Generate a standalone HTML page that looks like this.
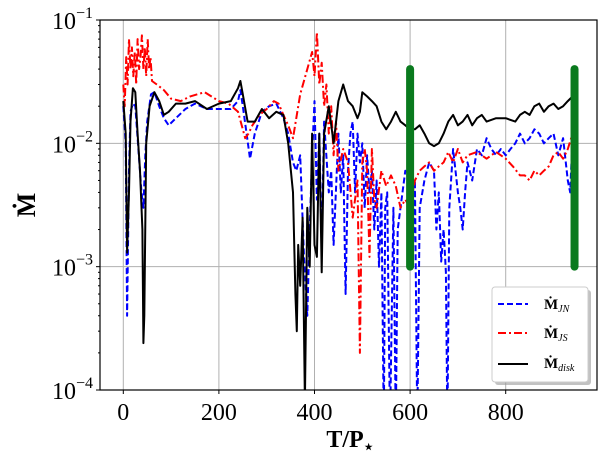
<!DOCTYPE html>
<html><head><meta charset="utf-8"><style>
body{margin:0;background:#fff;}
svg text{font-family:"Liberation Serif",serif;}
</style></head><body>
<svg id="chart" width="609" height="463" xmlns="http://www.w3.org/2000/svg">
<defs><clipPath id="clip"><rect x="100" y="20" width="497" height="370"/></clipPath></defs>
<g id="grid"></g>
<g id="series" clip-path="url(#clip)"></g>
<g id="bars"></g>
<rect x="100" y="20" width="497" height="370" fill="none" stroke="#000" stroke-width="1.2"/>
<g id="ticks"></g>
<text x="35" y="205" font-size="26" font-weight="bold" text-anchor="middle" transform="rotate(-90 35 205)">Ṁ</text>
<text x="350" y="447" font-size="24" font-weight="bold" text-anchor="middle">T/P<tspan font-size="16" dy="5">⋆</tspan></text>
<g>
<rect x="495" y="290" width="96" height="95" rx="3" fill="#999" opacity="0.6"/>
<rect x="492" y="287" width="96" height="95" rx="3" fill="#fff" stroke="#ccc"/>
<g><line x1="498" y1="304" x2="528" y2="304" stroke="blue" stroke-width="2" stroke-dasharray="6,3"/><text x="544" y="309" font-size="15" font-weight="bold">Ṁ<tspan font-size="10" font-style="italic" font-weight="normal" dy="3">JN</tspan></text></g>
<g><line x1="498" y1="333" x2="528" y2="333" stroke="red" stroke-width="2" stroke-dasharray="8,3,2,3"/><text x="544" y="338" font-size="15" font-weight="bold">Ṁ<tspan font-size="10" font-style="italic" font-weight="normal" dy="3">JS</tspan></text></g>
<g><line x1="498" y1="364" x2="528" y2="364" stroke="#000" stroke-width="2"/><text x="544" y="368" font-size="15" font-weight="bold">Ṁ<tspan font-size="10" font-style="italic" font-weight="normal" dy="3">disk</tspan></text></g>
</g>
</svg>
<script>
const xTicks=[0,200,400,600,800];
const yTickExp=[-1,-2,-3,-4];
const markerTimes=[600,944];
const markerRange=[0.04,0.001];
const diskT=[0,5,8,12,15,20,25,30,35,40,42,44,48,55,65,75,85,95,110,130,150,175,200,225,240,245,250,260,275,290,305,320,335,345,355,360,363,366,370,375,380,385,390,395,400,405,410,415,420,430,440,450,460,470,480,490,495,500,510,520,530,540,550,560,570,580,590,600,610,620,630,640,650,660,670,680,690,700,710,720,730,740,750,760,780,800,820,830,840,850,860,870,880,890,900,910,920,930,940];
const diskV=[0.022,0.012,0.0013,0.004,0.015,0.028,0.026,0.012,0.006,0.002,0.00024,0.0004,0.01,0.02,0.026,0.022,0.017,0.018,0.021,0.021,0.022,0.019,0.021,0.022,0.028,0.032,0.025,0.015,0.015,0.019,0.016,0.018,0.017,0.01,0.004,0.0006,0.0003,0.0015,0.0007,0.0025,0.00008,0.003,0.001,0.012,0.0015,0.0012,0.012,0.0009,0.012,0.02,0.01,0.022,0.03,0.022,0.02,0.016,0.018,0.026,0.024,0.022,0.02,0.015,0.013,0.015,0.018,0.015,0.014,0.013,0.013,0.014,0.012,0.01,0.0095,0.01,0.012,0.015,0.017,0.014,0.015,0.017,0.014,0.016,0.017,0.015,0.016,0.016,0.015,0.017,0.018,0.017,0.02,0.021,0.018,0.02,0.021,0.019,0.02,0.022,0.024];
const jnT=[0,5,8,12,15,20,25,30,38,42,46,50,58,65,75,85,95,110,130,150,175,200,225,240,245,250,258,265,275,290,305,320,335,345,355,362,370,378,385,390,395,400,405,410,415,420,430,435,440,450,455,460,465,470,475,480,485,490,495,500,505,510,515,520,525,530,535,540,545,548,552,558,565,570,574,580,590,600,605,610,615,620,630,640,650,655,660,665,670,675,678,682,690,700,705,710,715,720,730,740,750,760,770,780,790,800,810,820,830,840,850,860,870,880,890,900,910,920,930,935,940];
const jnV=[0.02,0.01,0.0004,0.006,0.018,0.021,0.02,0.011,0.004,0.003,0.008,0.015,0.025,0.026,0.02,0.016,0.014,0.016,0.019,0.021,0.019,0.019,0.019,0.022,0.027,0.02,0.012,0.0075,0.012,0.018,0.02,0.021,0.016,0.012,0.007,0.006,0.008,0.0012,0.0004,0.002,0.008,0.022,0.0035,0.012,0.0014,0.015,0.004,0.006,0.0015,0.012,0.004,0.008,0.0006,0.006,0.012,0.015,0.004,0.012,0.007,0.01,0.003,0.008,0.004,0.006,0.002,0.005,0.001,0.004,0.00005,0.003,0.004,0.00005,0.003,0.00005,0.002,0.003,0.006,0.005,0.001,0.005,0.00005,0.003,0.005,0.007,0.006,0.002,0.004,0.0011,0.002,0.0009,0.00005,0.003,0.009,0.004,0.003,0.002,0.004,0.007,0.005,0.009,0.008,0.011,0.009,0.008,0.009,0.008,0.009,0.01,0.012,0.01,0.011,0.013,0.012,0.01,0.011,0.012,0.008,0.011,0.005,0.004,0.012];
const jsT=[0,3,6,9,12,15,18,21,24,27,30,33,36,39,42,45,48,51,54,57,60,70,85,100,120,140,170,200,220,240,250,255,262,270,285,300,315,325,335,345,355,370,385,395,400,405,410,415,420,425,430,435,440,445,450,460,470,480,490,495,500,505,510,515,520,525,530,540,550,560,570,580,590,600,610,620,630,640,650,660,670,680,690,700,710,720,740,760,780,800,815,830,840,850,860,870,880,890,900,910,920,930,940];
const jsV=[0.03,0.02,0.05,0.03,0.07,0.04,0.06,0.035,0.055,0.03,0.07,0.04,0.05,0.075,0.04,0.06,0.035,0.07,0.04,0.05,0.032,0.03,0.027,0.023,0.022,0.024,0.026,0.022,0.021,0.018,0.013,0.011,0.012,0.014,0.017,0.019,0.022,0.021,0.017,0.014,0.011,0.025,0.04,0.055,0.035,0.08,0.03,0.045,0.02,0.03,0.012,0.02,0.008,0.015,0.006,0.009,0.007,0.0025,0.005,0.0002,0.007,0.009,0.006,0.0012,0.009,0.0035,0.003,0.006,0.0045,0.0055,0.0045,0.003,0.0035,0.003,0.005,0.006,0.0065,0.007,0.006,0.0065,0.007,0.0085,0.007,0.009,0.007,0.008,0.0085,0.0075,0.0085,0.0075,0.0065,0.0055,0.0055,0.005,0.006,0.0055,0.006,0.0065,0.008,0.0085,0.0075,0.009,0.012];

const NS='http://www.w3.org/2000/svg';
const X0=100,X1=597,Y0=20,Y1=390;
function xs(t){return 123.3+(t-0)*(505.7-123.3)/800;}
function ys(v){return Y0+(-1-Math.log10(v))*(Y1-Y0)/3;}
function mk(tag,attrs,parent){const e=document.createElementNS(NS,tag);for(const k in attrs)e.setAttribute(k,attrs[k]);parent.appendChild(e);return e;}
const grid=document.getElementById('grid'),ticks=document.getElementById('ticks');
xTicks.forEach(t=>{
 const x=xs(t);
 const g=mk('line',{x1:x,x2:x,y1:Y0,y2:Y1,stroke:'#b0b0b0','stroke-width':1},grid);
 
 
 mk('line',{x1:x,x2:x,y1:Y1,y2:Y1+4,stroke:'#000'},ticks);
 const tx=mk('text',{x:x,y:Y1+30,'font-size':24,'text-anchor':'middle'},ticks);
 tx.textContent=t;
 
 
});
yTickExp.forEach(e=>{
 const y=ys(Math.pow(10,e));
 const g=mk('line',{x1:X0,x2:X1,y1:y,y2:y,stroke:'#b0b0b0','stroke-width':1},grid);
 
 
 mk('line',{x1:X0-4,x2:X0,y1:y,y2:y,stroke:'#000'},ticks);
 const tx=mk('text',{x:X0-7,y:y+9,'font-size':24,'text-anchor':'end'},ticks);
 tx.innerHTML='10<tspan font-size="16" dy="-11">\u2212'+(-e)+'</tspan>';
 
 
 for(let m=2;m<10;m++){const yy=ys(m*Math.pow(10,e-1));if(yy<Y1&&yy>Y0)mk('line',{x1:X0-2,x2:X0,y1:yy,y2:yy,stroke:'#000'},ticks);}
});
const ser=document.getElementById('series');
function draw(T,V,color,dash,name){
 const d=T.map((t,i)=>(i?'L':'M')+xs(t).toFixed(1)+','+ys(V[i]).toFixed(1)).join(' ');
 const p=mk('path',{d:d,fill:'none',stroke:color,'stroke-width':2,'stroke-dasharray':dash,'stroke-linejoin':'round'},ser);
 
 
}
draw(jnT,jnV,'blue','6,3','series-mdot-jn');
draw(jsT,jsV,'red','8,3,2,3','series-mdot-js');
draw(diskT,diskV,'#000','none','series-mdot-disk');
const bars=document.getElementById('bars');
markerTimes.forEach(t=>{
 const b=mk('line',{x1:xs(t),x2:xs(t),y1:ys(markerRange[0]),y2:ys(markerRange[1]),stroke:'#0a7a1e','stroke-width':8,'stroke-linecap':'round'},bars);
 
 
});
</script>
</body></html>
